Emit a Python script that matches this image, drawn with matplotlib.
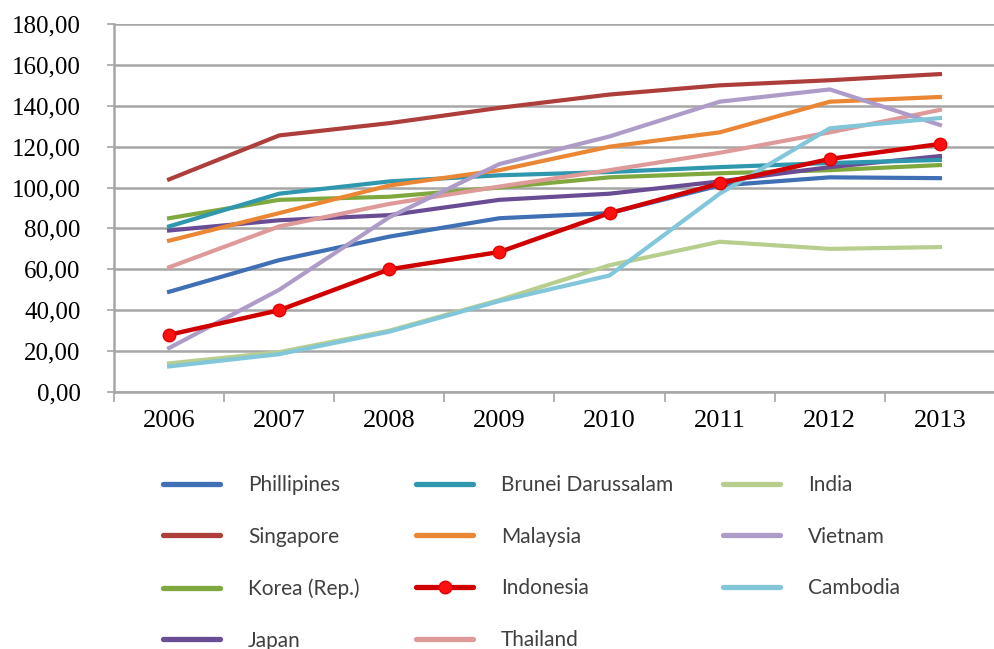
import matplotlib
matplotlib.use("Agg")
import matplotlib.pyplot as plt

years = ["2006", "2007", "2008", "2009", "2010", "2011", "2012", "2013"]
y_ticks = [0, 20, 40, 60, 80, 100, 120, 140, 160, 180]

phillipines = [49, 64.5, 76, 85, 87.5, 101, 105, 104.6]
singapore = [104, 125.5, 131.5, 139, 145.5, 150, 152.5, 155.5]
korea = [85, 94, 95.5, 100, 105, 107, 108.5, 111]
japan = [79, 84, 86.5, 94, 97, 103, 110, 115.4]
brunei = [81, 97, 103, 106, 107.6, 110, 112, 113.5]
malaysia = [74, 87.5, 101, 108.5, 120, 127, 142, 144.3]
indonesia = [28, 40, 60, 68.5, 87.5, 102, 114, 121.3]
thailand = [61, 81, 92, 100.5, 108.5, 117, 127, 138]
india = [14, 19.5, 30, 45, 62, 73.5, 70, 70.9]
vietnam = [21.5, 50, 85.5, 111.5, 125, 142, 148, 130.6]
cambodia = [12.5, 18.5, 29.5, 44.5, 57, 97, 129, 134]

series = [
    ("Phillipines", phillipines, "#3F6FB4"),
    ("Singapore", singapore, "#AE3E3B"),
    ("Korea (Rep.)", korea, "#7FA83F"),
    ("Japan", japan, "#6A4C94"),
    ("Brunei Darussalam", brunei, "#2F97AE"),
    ("Malaysia", malaysia, "#EA8634"),
    ("Indonesia", indonesia, "#D10000"),
    ("Thailand", thailand, "#DE9A98"),
    ("India", india, "#B7CE8F"),
    ("Vietnam", vietnam, "#AE9CC8"),
    ("Cambodia", cambodia, "#82C6DA"),
]

W, H = 995, 649
fig = plt.figure(figsize=(W / 100, H / 100), dpi=100)
ax = fig.add_axes([114 / W, 1 - 392 / H, 1 - 114 / W, (392 - 24) / H])

x = list(range(len(years)))
handles = {}
for name, vals, col in series:
    if name == "Indonesia":
        h, = ax.plot(x, vals, color=col, lw=3.2, marker="o", markersize=9,
                     markerfacecolor="#FF1010", markeredgecolor="#E00000", zorder=5)
    else:
        h, = ax.plot(x, vals, color=col, lw=3.0)
    handles[name] = h

ax.set_ylim(0, 180)
ax.set_xlim(-0.5, 7.5 - 7 / 111)
ax.set_yticks(y_ticks)
ax.set_yticklabels([f"{v},00" for v in y_ticks], family=["Liberation Serif"], fontsize=18)
ax.yaxis.grid(True, color="#A6A6A6", lw=1.8)
ax.set_axisbelow(True)
ax.tick_params(axis="y", length=5, width=1.2, color="#A6A6A6", pad=19)

ax.set_xticks([i - 0.5 for i in range(len(years) + 1)])
ax.set_xticklabels([])
ax.set_xticks(x, minor=True)
ax.set_xticklabels(years, minor=True, family=["Liberation Serif"], fontsize=19)
ax.tick_params(axis="x", which="major", length=7, width=1.2, color="#A6A6A6")
ax.tick_params(axis="x", which="minor", length=0, pad=13)

for s in ["top", "right"]:
    ax.spines[s].set_visible(False)
for s in ["left", "bottom"]:
    ax.spines[s].set_color("#A6A6A6")
    ax.spines[s].set_linewidth(1.8)

cols = [
    (["Phillipines", "Singapore", "Korea (Rep.)", "Japan"], 163),
    (["Brunei Darussalam", "Malaysia", "Indonesia", "Thailand"], 416),
    (["India", "Vietnam", "Cambodia"], 723),
]
for names, xpx in cols:
    leg = fig.legend([handles[n] for n in names], names, loc="upper left",
                     bbox_to_anchor=(xpx / W, 1 - 475 / H), frameon=False,
                     borderpad=0, borderaxespad=0, handlelength=2.74,
                     handletextpad=1.35, labelspacing=1.52, numpoints=1,
                     prop={"family": ["Lato", "DejaVu Sans"], "size": 15})
    for lh in leg.legend_handles:
        lh.set_linewidth(3.8)
        lh.set_solid_capstyle("round")
    for t in leg.get_texts():
        t.set_color("#404040")

fig.savefig("out.png", dpi=100)
